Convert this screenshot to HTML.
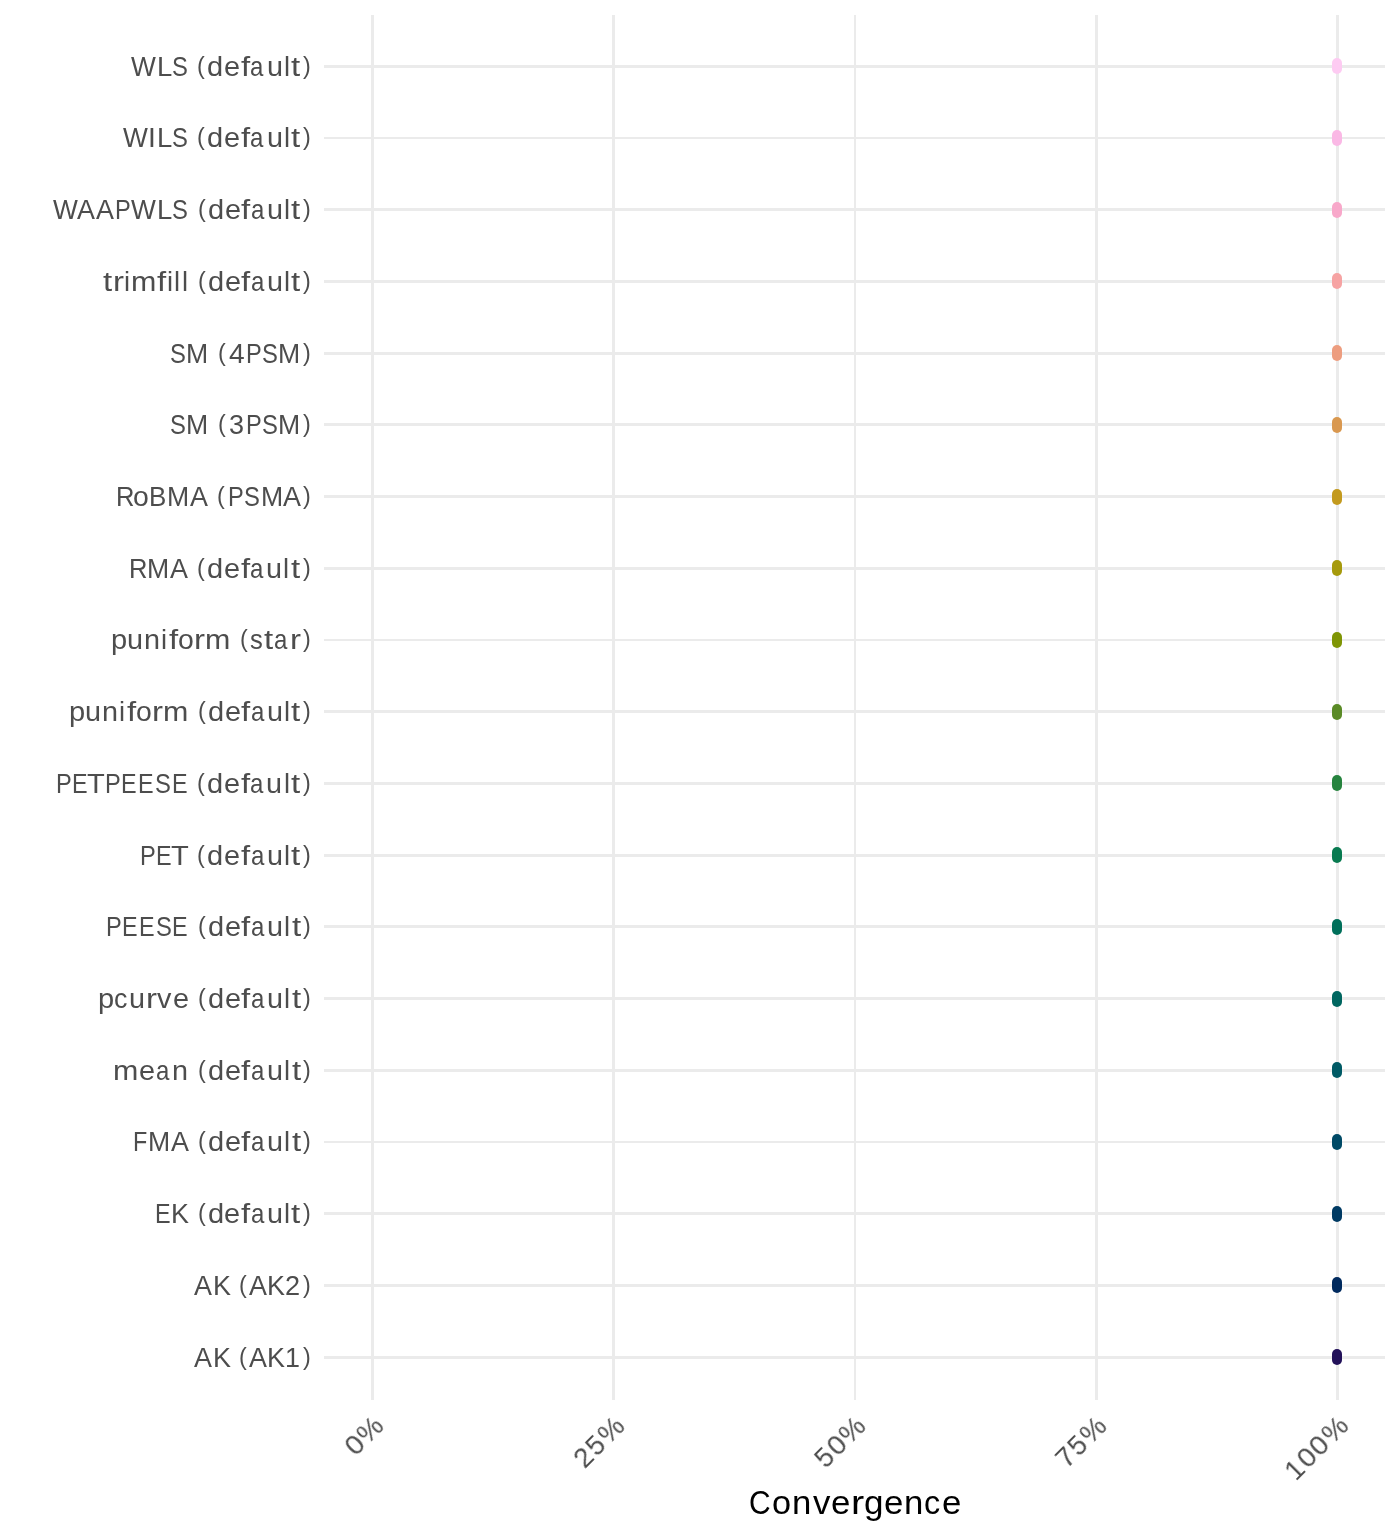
<!DOCTYPE html><html><head><meta charset="utf-8"><title>Convergence</title><style>
html,body{margin:0;padding:0;background:#fff;width:1400px;height:1536px;overflow:hidden;}
body{position:relative;font-family:"Liberation Sans",sans-serif;}
.g{position:absolute;background:#EBEBEB;}
.p{position:absolute;width:10.00px;height:16.00px;border-radius:5.00px;}
.t{position:absolute;height:1px;will-change:transform;}
.t span{position:absolute;top:0;white-space:pre;transform-origin:0 0;line-height:1;}
.yl{color:#4D4D4D;font-size:27.50px;}
.xl{color:#4D4D4D;font-size:27.50px;transform-origin:100% 0;}
.ti{color:#000;font-size:33.00px;}
</style></head><body>
<div class="g" style="left:371.15px;top:14.60px;width:2.90px;height:1385.40px"></div>
<div class="g" style="left:612.35px;top:14.60px;width:2.90px;height:1385.40px"></div>
<div class="g" style="left:853.55px;top:14.60px;width:2.90px;height:1385.40px"></div>
<div class="g" style="left:1094.75px;top:14.60px;width:2.90px;height:1385.40px"></div>
<div class="g" style="left:1335.95px;top:14.60px;width:2.90px;height:1385.40px"></div>
<div class="g" style="left:324.00px;top:64.85px;width:1061.20px;height:2.90px"></div>
<div class="g" style="left:324.00px;top:136.56px;width:1061.20px;height:2.90px"></div>
<div class="g" style="left:324.00px;top:208.27px;width:1061.20px;height:2.90px"></div>
<div class="g" style="left:324.00px;top:279.98px;width:1061.20px;height:2.90px"></div>
<div class="g" style="left:324.00px;top:351.69px;width:1061.20px;height:2.90px"></div>
<div class="g" style="left:324.00px;top:423.40px;width:1061.20px;height:2.90px"></div>
<div class="g" style="left:324.00px;top:495.11px;width:1061.20px;height:2.90px"></div>
<div class="g" style="left:324.00px;top:566.82px;width:1061.20px;height:2.90px"></div>
<div class="g" style="left:324.00px;top:638.53px;width:1061.20px;height:2.90px"></div>
<div class="g" style="left:324.00px;top:710.24px;width:1061.20px;height:2.90px"></div>
<div class="g" style="left:324.00px;top:781.95px;width:1061.20px;height:2.90px"></div>
<div class="g" style="left:324.00px;top:853.66px;width:1061.20px;height:2.90px"></div>
<div class="g" style="left:324.00px;top:925.37px;width:1061.20px;height:2.90px"></div>
<div class="g" style="left:324.00px;top:997.08px;width:1061.20px;height:2.90px"></div>
<div class="g" style="left:324.00px;top:1068.79px;width:1061.20px;height:2.90px"></div>
<div class="g" style="left:324.00px;top:1140.50px;width:1061.20px;height:2.90px"></div>
<div class="g" style="left:324.00px;top:1212.21px;width:1061.20px;height:2.90px"></div>
<div class="g" style="left:324.00px;top:1283.92px;width:1061.20px;height:2.90px"></div>
<div class="g" style="left:324.00px;top:1355.63px;width:1061.20px;height:2.90px"></div>
<div class="p" style="left:1332.40px;top:58.30px;background:#FDCBF2"></div>
<div class="p" style="left:1332.40px;top:130.01px;background:#FAB8E5"></div>
<div class="p" style="left:1332.40px;top:201.72px;background:#F8A8CA"></div>
<div class="p" style="left:1332.40px;top:273.43px;background:#F6A3A3"></div>
<div class="p" style="left:1332.40px;top:345.14px;background:#ED9D7F"></div>
<div class="p" style="left:1332.40px;top:416.85px;background:#D9984F"></div>
<div class="p" style="left:1332.40px;top:488.56px;background:#C39A1E"></div>
<div class="p" style="left:1332.40px;top:560.27px;background:#A69A0C"></div>
<div class="p" style="left:1332.40px;top:631.98px;background:#7F9505"></div>
<div class="p" style="left:1332.40px;top:703.69px;background:#5A8A26"></div>
<div class="p" style="left:1332.40px;top:775.40px;background:#26833E"></div>
<div class="p" style="left:1332.40px;top:847.11px;background:#087A50"></div>
<div class="p" style="left:1332.40px;top:918.82px;background:#006F5A"></div>
<div class="p" style="left:1332.40px;top:990.53px;background:#006660"></div>
<div class="p" style="left:1332.40px;top:1062.24px;background:#005A65"></div>
<div class="p" style="left:1332.40px;top:1133.95px;background:#004A66"></div>
<div class="p" style="left:1332.40px;top:1205.66px;background:#003A63"></div>
<div class="p" style="left:1332.40px;top:1277.37px;background:#002A5E"></div>
<div class="p" style="left:1332.40px;top:1349.08px;background:#221159"></div>
<div class="t yl" style="left:130.05px;top:53.00px"><span style="left:0.77px;transform:scaleX(0.9572)">W</span><span style="left:26.75px;transform:scaleX(0.9989)">L</span><span style="left:41.94px;transform:scaleX(0.8655)">S</span><span style="left:67.43px;transform:scaleX(0.8500) scaleY(0.900);transform-origin:0 3.30px">(</span><span style="left:77.36px;transform:scaleX(1.0552)">d</span><span style="left:94.29px;transform:scaleX(1.0487)">e</span><span style="left:110.89px;transform:scaleX(1.2000)">f</span><span style="left:120.45px;transform:scaleX(0.8731)">a</span><span style="left:136.63px;transform:scaleX(1.0468)">u</span><span style="left:153.81px;transform:scaleX(0.9925)">l</span><span style="left:161.11px;transform:scaleX(1.2000)">t</span><span style="left:172.93px;transform:scaleX(0.8500) scaleY(0.900);transform-origin:0 3.30px">)</span></div>
<div class="t yl" style="left:122.17px;top:124.00px"><span style="left:0.77px;transform:scaleX(0.9572)">W</span><span style="left:26.39px;transform:scaleX(1.0268)">I</span><span style="left:34.62px;transform:scaleX(0.9989)">L</span><span style="left:49.82px;transform:scaleX(0.8655)">S</span><span style="left:75.30px;transform:scaleX(0.8500) scaleY(0.900);transform-origin:0 3.30px">(</span><span style="left:85.23px;transform:scaleX(1.0552)">d</span><span style="left:102.16px;transform:scaleX(1.0487)">e</span><span style="left:118.75px;transform:scaleX(1.2000)">f</span><span style="left:128.33px;transform:scaleX(0.8731)">a</span><span style="left:144.50px;transform:scaleX(1.0468)">u</span><span style="left:161.69px;transform:scaleX(0.9925)">l</span><span style="left:168.99px;transform:scaleX(1.2000)">t</span><span style="left:180.80px;transform:scaleX(0.8500) scaleY(0.900);transform-origin:0 3.30px">)</span></div>
<div class="t yl" style="left:51.75px;top:196.00px"><span style="left:0.77px;transform:scaleX(0.9572)">W</span><span style="left:25.08px;transform:scaleX(0.9781)">A</span><span style="left:44.09px;transform:scaleX(0.9781)">A</span><span style="left:62.87px;transform:scaleX(0.8587)">P</span><span style="left:79.06px;transform:scaleX(0.9572)">W</span><span style="left:105.06px;transform:scaleX(0.9989)">L</span><span style="left:120.24px;transform:scaleX(0.8655)">S</span><span style="left:145.72px;transform:scaleX(0.8500) scaleY(0.900);transform-origin:0 3.30px">(</span><span style="left:155.65px;transform:scaleX(1.0552)">d</span><span style="left:172.60px;transform:scaleX(1.0487)">e</span><span style="left:189.19px;transform:scaleX(1.2000)">f</span><span style="left:198.75px;transform:scaleX(0.8731)">a</span><span style="left:214.92px;transform:scaleX(1.0468)">u</span><span style="left:232.12px;transform:scaleX(0.9925)">l</span><span style="left:239.41px;transform:scaleX(1.2000)">t</span><span style="left:251.22px;transform:scaleX(0.8500) scaleY(0.900);transform-origin:0 3.30px">)</span></div>
<div class="t yl" style="left:101.75px;top:268.00px"><span style="left:0.56px;transform:scaleX(1.2000)">t</span><span style="left:10.85px;transform:scaleX(1.2000)">r</span><span style="left:22.13px;transform:scaleX(0.9925)">i</span><span style="left:29.25px;transform:scaleX(1.1062)">m</span><span style="left:55.26px;transform:scaleX(1.2000)">f</span><span style="left:64.95px;transform:scaleX(0.9925)">i</span><span style="left:72.34px;transform:scaleX(0.9925)">l</span><span style="left:79.75px;transform:scaleX(0.9925)">l</span><span style="left:95.72px;transform:scaleX(0.8500) scaleY(0.900);transform-origin:0 3.30px">(</span><span style="left:105.65px;transform:scaleX(1.0552)">d</span><span style="left:122.60px;transform:scaleX(1.0487)">e</span><span style="left:139.19px;transform:scaleX(1.2000)">f</span><span style="left:148.75px;transform:scaleX(0.8731)">a</span><span style="left:164.92px;transform:scaleX(1.0468)">u</span><span style="left:182.12px;transform:scaleX(0.9925)">l</span><span style="left:189.41px;transform:scaleX(1.2000)">t</span><span style="left:201.22px;transform:scaleX(0.8500) scaleY(0.900);transform-origin:0 3.30px">)</span></div>
<div class="t yl" style="left:169.16px;top:340.00px"><span style="left:0.68px;transform:scaleX(0.8655)">S</span><span style="left:17.38px;transform:scaleX(0.9681)">M</span><span style="left:49.19px;transform:scaleX(0.8500) scaleY(0.900);transform-origin:0 3.30px">(</span><span style="left:59.52px;transform:scaleX(1.0236)">4</span><span style="left:76.53px;transform:scaleX(0.8587)">P</span><span style="left:92.63px;transform:scaleX(0.8655)">S</span><span style="left:109.33px;transform:scaleX(0.9681)">M</span><span style="left:133.81px;transform:scaleX(0.8500) scaleY(0.900);transform-origin:0 3.30px">)</span></div>
<div class="t yl" style="left:169.16px;top:411.00px"><span style="left:0.68px;transform:scaleX(0.8655)">S</span><span style="left:17.38px;transform:scaleX(0.9681)">M</span><span style="left:49.19px;transform:scaleX(0.8500) scaleY(0.900);transform-origin:0 3.30px">(</span><span style="left:59.87px;transform:scaleX(0.9829)">3</span><span style="left:76.53px;transform:scaleX(0.8587)">P</span><span style="left:92.63px;transform:scaleX(0.8655)">S</span><span style="left:109.33px;transform:scaleX(0.9681)">M</span><span style="left:133.81px;transform:scaleX(0.8500) scaleY(0.900);transform-origin:0 3.30px">)</span></div>
<div class="t yl" style="left:114.57px;top:483.00px"><span style="left:0.53px;transform:scaleX(0.9286)">R</span><span style="left:17.63px;transform:scaleX(1.0322)">o</span><span style="left:34.17px;transform:scaleX(0.9433)">B</span><span style="left:52.43px;transform:scaleX(0.9681)">M</span><span style="left:75.17px;transform:scaleX(0.9781)">A</span><span style="left:102.49px;transform:scaleX(0.8500) scaleY(0.900);transform-origin:0 3.30px">(</span><span style="left:112.85px;transform:scaleX(0.8587)">P</span><span style="left:128.96px;transform:scaleX(0.8655)">S</span><span style="left:145.65px;transform:scaleX(0.9681)">M</span><span style="left:168.41px;transform:scaleX(0.9781)">A</span><span style="left:188.41px;transform:scaleX(0.8500) scaleY(0.900);transform-origin:0 3.30px">)</span></div>
<div class="t yl" style="left:128.43px;top:555.00px"><span style="left:0.53px;transform:scaleX(0.9286)">R</span><span style="left:18.97px;transform:scaleX(0.9681)">M</span><span style="left:41.73px;transform:scaleX(0.9781)">A</span><span style="left:69.06px;transform:scaleX(0.8500) scaleY(0.900);transform-origin:0 3.30px">(</span><span style="left:78.99px;transform:scaleX(1.0552)">d</span><span style="left:95.92px;transform:scaleX(1.0487)">e</span><span style="left:112.51px;transform:scaleX(1.2000)">f</span><span style="left:122.09px;transform:scaleX(0.8731)">a</span><span style="left:138.26px;transform:scaleX(1.0468)">u</span><span style="left:155.44px;transform:scaleX(0.9925)">l</span><span style="left:162.75px;transform:scaleX(1.2000)">t</span><span style="left:174.54px;transform:scaleX(0.8500) scaleY(0.900);transform-origin:0 3.30px">)</span></div>
<div class="t yl" style="left:110.05px;top:626.00px"><span style="left:0.55px;transform:scaleX(1.0563)">p</span><span style="left:17.34px;transform:scaleX(1.0468)">u</span><span style="left:34.37px;transform:scaleX(1.0468)">n</span><span style="left:51.46px;transform:scaleX(0.9925)">i</span><span style="left:58.61px;transform:scaleX(1.2000)">f</span><span style="left:67.86px;transform:scaleX(1.0322)">o</span><span style="left:84.31px;transform:scaleX(1.2000)">r</span><span style="left:94.82px;transform:scaleX(1.1062)">m</span><span style="left:129.64px;transform:scaleX(0.8500) scaleY(0.900);transform-origin:0 3.30px">(</span><span style="left:140.05px;transform:scaleX(0.9307)">s</span><span style="left:153.79px;transform:scaleX(1.2000)">t</span><span style="left:164.29px;transform:scaleX(0.8731)">a</span><span style="left:180.45px;transform:scaleX(1.2000)">r</span><span style="left:192.92px;transform:scaleX(0.8500) scaleY(0.900);transform-origin:0 3.30px">)</span></div>
<div class="t yl" style="left:67.83px;top:698.00px"><span style="left:0.55px;transform:scaleX(1.0563)">p</span><span style="left:17.34px;transform:scaleX(1.0468)">u</span><span style="left:34.37px;transform:scaleX(1.0468)">n</span><span style="left:51.46px;transform:scaleX(0.9925)">i</span><span style="left:58.61px;transform:scaleX(1.2000)">f</span><span style="left:67.86px;transform:scaleX(1.0322)">o</span><span style="left:84.31px;transform:scaleX(1.2000)">r</span><span style="left:94.82px;transform:scaleX(1.1062)">m</span><span style="left:129.64px;transform:scaleX(0.8500) scaleY(0.900);transform-origin:0 3.30px">(</span><span style="left:139.57px;transform:scaleX(1.0552)">d</span><span style="left:156.52px;transform:scaleX(1.0487)">e</span><span style="left:173.11px;transform:scaleX(1.2000)">f</span><span style="left:182.67px;transform:scaleX(0.8731)">a</span><span style="left:198.85px;transform:scaleX(1.0468)">u</span><span style="left:216.05px;transform:scaleX(0.9925)">l</span><span style="left:223.35px;transform:scaleX(1.2000)">t</span><span style="left:235.14px;transform:scaleX(0.8500) scaleY(0.900);transform-origin:0 3.30px">)</span></div>
<div class="t yl" style="left:55.36px;top:770.00px"><span style="left:0.68px;transform:scaleX(0.8587)">P</span><span style="left:16.73px;transform:scaleX(0.8500)">E</span><span style="left:32.22px;transform:scaleX(1.0589)">T</span><span style="left:49.95px;transform:scaleX(0.8587)">P</span><span style="left:65.99px;transform:scaleX(0.8500)">E</span><span style="left:82.87px;transform:scaleX(0.8500)">E</span><span style="left:99.77px;transform:scaleX(0.8655)">S</span><span style="left:116.67px;transform:scaleX(0.8500)">E</span><span style="left:142.13px;transform:scaleX(0.8500) scaleY(0.900);transform-origin:0 3.30px">(</span><span style="left:152.06px;transform:scaleX(1.0552)">d</span><span style="left:168.99px;transform:scaleX(1.0487)">e</span><span style="left:185.58px;transform:scaleX(1.2000)">f</span><span style="left:195.14px;transform:scaleX(0.8731)">a</span><span style="left:211.31px;transform:scaleX(1.0468)">u</span><span style="left:228.51px;transform:scaleX(0.9925)">l</span><span style="left:235.82px;transform:scaleX(1.2000)">t</span><span style="left:247.61px;transform:scaleX(0.8500) scaleY(0.900);transform-origin:0 3.30px">)</span></div>
<div class="t yl" style="left:139.00px;top:842.00px"><span style="left:0.68px;transform:scaleX(0.8587)">P</span><span style="left:16.73px;transform:scaleX(0.8500)">E</span><span style="left:32.22px;transform:scaleX(1.0589)">T</span><span style="left:58.49px;transform:scaleX(0.8500) scaleY(0.900);transform-origin:0 3.30px">(</span><span style="left:68.42px;transform:scaleX(1.0552)">d</span><span style="left:85.35px;transform:scaleX(1.0487)">e</span><span style="left:101.94px;transform:scaleX(1.2000)">f</span><span style="left:111.51px;transform:scaleX(0.8731)">a</span><span style="left:127.69px;transform:scaleX(1.0468)">u</span><span style="left:144.87px;transform:scaleX(0.9925)">l</span><span style="left:152.18px;transform:scaleX(1.2000)">t</span><span style="left:163.97px;transform:scaleX(0.8500) scaleY(0.900);transform-origin:0 3.30px">)</span></div>
<div class="t yl" style="left:104.62px;top:913.00px"><span style="left:0.68px;transform:scaleX(0.8587)">P</span><span style="left:16.73px;transform:scaleX(0.8500)">E</span><span style="left:33.59px;transform:scaleX(0.8500)">E</span><span style="left:50.51px;transform:scaleX(0.8655)">S</span><span style="left:67.40px;transform:scaleX(0.8500)">E</span><span style="left:92.85px;transform:scaleX(0.8500) scaleY(0.900);transform-origin:0 3.30px">(</span><span style="left:102.78px;transform:scaleX(1.0552)">d</span><span style="left:119.73px;transform:scaleX(1.0487)">e</span><span style="left:136.32px;transform:scaleX(1.2000)">f</span><span style="left:145.88px;transform:scaleX(0.8731)">a</span><span style="left:162.05px;transform:scaleX(1.0468)">u</span><span style="left:179.25px;transform:scaleX(0.9925)">l</span><span style="left:186.55px;transform:scaleX(1.2000)">t</span><span style="left:198.35px;transform:scaleX(0.8500) scaleY(0.900);transform-origin:0 3.30px">)</span></div>
<div class="t yl" style="left:96.53px;top:985.00px"><span style="left:0.55px;transform:scaleX(1.0563)">p</span><span style="left:17.27px;transform:scaleX(0.9742)">c</span><span style="left:32.02px;transform:scaleX(1.0468)">u</span><span style="left:48.91px;transform:scaleX(1.2000)">r</span><span style="left:60.20px;transform:scaleX(1.0478)">v</span><span style="left:75.55px;transform:scaleX(1.0487)">e</span><span style="left:100.94px;transform:scaleX(0.8500) scaleY(0.900);transform-origin:0 3.30px">(</span><span style="left:110.87px;transform:scaleX(1.0552)">d</span><span style="left:127.82px;transform:scaleX(1.0487)">e</span><span style="left:144.41px;transform:scaleX(1.2000)">f</span><span style="left:153.97px;transform:scaleX(0.8731)">a</span><span style="left:170.14px;transform:scaleX(1.0468)">u</span><span style="left:187.34px;transform:scaleX(0.9925)">l</span><span style="left:194.65px;transform:scaleX(1.2000)">t</span><span style="left:206.44px;transform:scaleX(0.8500) scaleY(0.900);transform-origin:0 3.30px">)</span></div>
<div class="t yl" style="left:112.56px;top:1057.00px"><span style="left:0.40px;transform:scaleX(1.1062)">m</span><span style="left:26.24px;transform:scaleX(1.0487)">e</span><span style="left:43.01px;transform:scaleX(0.8731)">a</span><span style="left:59.30px;transform:scaleX(1.0468)">n</span><span style="left:84.91px;transform:scaleX(0.8500) scaleY(0.900);transform-origin:0 3.30px">(</span><span style="left:94.84px;transform:scaleX(1.0552)">d</span><span style="left:111.79px;transform:scaleX(1.0487)">e</span><span style="left:128.38px;transform:scaleX(1.2000)">f</span><span style="left:137.94px;transform:scaleX(0.8731)">a</span><span style="left:154.12px;transform:scaleX(1.0468)">u</span><span style="left:171.32px;transform:scaleX(0.9925)">l</span><span style="left:178.62px;transform:scaleX(1.2000)">t</span><span style="left:190.41px;transform:scaleX(0.8500) scaleY(0.900);transform-origin:0 3.30px">)</span></div>
<div class="t yl" style="left:131.62px;top:1128.00px"><span style="left:0.58px;transform:scaleX(0.8500)">F</span><span style="left:15.78px;transform:scaleX(0.9681)">M</span><span style="left:38.53px;transform:scaleX(0.9781)">A</span><span style="left:65.86px;transform:scaleX(0.8500) scaleY(0.900);transform-origin:0 3.30px">(</span><span style="left:75.79px;transform:scaleX(1.0552)">d</span><span style="left:92.74px;transform:scaleX(1.0487)">e</span><span style="left:109.33px;transform:scaleX(1.2000)">f</span><span style="left:118.89px;transform:scaleX(0.8731)">a</span><span style="left:135.06px;transform:scaleX(1.0468)">u</span><span style="left:152.26px;transform:scaleX(0.9925)">l</span><span style="left:159.56px;transform:scaleX(1.2000)">t</span><span style="left:171.36px;transform:scaleX(0.8500) scaleY(0.900);transform-origin:0 3.30px">)</span></div>
<div class="t yl" style="left:153.89px;top:1200.00px"><span style="left:0.64px;transform:scaleX(0.8500)">E</span><span style="left:17.27px;transform:scaleX(0.9792)">K</span><span style="left:43.59px;transform:scaleX(0.8500) scaleY(0.900);transform-origin:0 3.30px">(</span><span style="left:53.52px;transform:scaleX(1.0552)">d</span><span style="left:70.45px;transform:scaleX(1.0487)">e</span><span style="left:87.06px;transform:scaleX(1.2000)">f</span><span style="left:96.62px;transform:scaleX(0.8731)">a</span><span style="left:112.79px;transform:scaleX(1.0468)">u</span><span style="left:129.97px;transform:scaleX(0.9925)">l</span><span style="left:137.28px;transform:scaleX(1.2000)">t</span><span style="left:149.09px;transform:scaleX(0.8500) scaleY(0.900);transform-origin:0 3.30px">)</span></div>
<div class="t yl" style="left:193.68px;top:1272.00px"><span style="left:0.16px;transform:scaleX(0.9781)">A</span><span style="left:18.67px;transform:scaleX(0.9792)">K</span><span style="left:44.98px;transform:scaleX(0.8500) scaleY(0.900);transform-origin:0 3.30px">(</span><span style="left:54.81px;transform:scaleX(0.9781)">A</span><span style="left:73.33px;transform:scaleX(0.9792)">K</span><span style="left:91.01px;transform:scaleX(0.9865)">2</span><span style="left:109.30px;transform:scaleX(0.8500) scaleY(0.900);transform-origin:0 3.30px">)</span></div>
<div class="t yl" style="left:193.68px;top:1344.00px"><span style="left:0.16px;transform:scaleX(0.9781)">A</span><span style="left:18.67px;transform:scaleX(0.9792)">K</span><span style="left:44.98px;transform:scaleX(0.8500) scaleY(0.900);transform-origin:0 3.30px">(</span><span style="left:54.81px;transform:scaleX(0.9781)">A</span><span style="left:73.33px;transform:scaleX(0.9792)">K</span><span style="left:91.30px;transform:scaleX(0.9775)">1</span><span style="left:109.30px;transform:scaleX(0.8500) scaleY(0.900);transform-origin:0 3.30px">)</span></div>
<div class="t xl" style="left:325.79px;top:1410.50px;width:43.31px;transform:rotate(-45deg)"><span style="left:0.68px;transform:scaleX(1.0465)">0</span><span style="left:17.86px;transform:scaleX(1.0194)">%</span></div>
<div class="t xl" style="left:549.64px;top:1410.50px;width:60.66px;transform:rotate(-45deg)"><span style="left:0.60px;transform:scaleX(1.0087)">2</span><span style="left:18.37px;transform:scaleX(0.9876)">5</span><span style="left:35.23px;transform:scaleX(1.0194)">%</span></div>
<div class="t xl" style="left:790.84px;top:1410.50px;width:60.66px;transform:rotate(-45deg)"><span style="left:1.02px;transform:scaleX(0.9876)">5</span><span style="left:18.03px;transform:scaleX(1.0465)">0</span><span style="left:35.23px;transform:scaleX(1.0194)">%</span></div>
<div class="t xl" style="left:1032.04px;top:1410.50px;width:60.66px;transform:rotate(-45deg)"><span style="left:0.80px;transform:scaleX(1.0237)">7</span><span style="left:18.37px;transform:scaleX(0.9876)">5</span><span style="left:35.23px;transform:scaleX(1.0194)">%</span></div>
<div class="t xl" style="left:1255.87px;top:1410.50px;width:78.03px;transform:rotate(-45deg)"><span style="left:0.91px;transform:scaleX(0.9995)">1</span><span style="left:18.03px;transform:scaleX(1.0465)">0</span><span style="left:35.39px;transform:scaleX(1.0465)">0</span><span style="left:52.59px;transform:scaleX(1.0194)">%</span></div>
<div class="t ti" style="left:748.68px;top:1486.00px"><span style="left:0.29px;transform:scaleX(0.9072)">C</span><span style="left:22.86px;transform:scaleX(1.0389)">o</span><span style="left:42.85px;transform:scaleX(1.0537)">n</span><span style="left:63.53px;transform:scaleX(1.0547)">v</span><span style="left:82.07px;transform:scaleX(1.0556)">e</span><span style="left:102.12px;transform:scaleX(1.2000)">r</span><span style="left:114.60px;transform:scaleX(1.0622)">g</span><span style="left:135.07px;transform:scaleX(1.0556)">e</span><span style="left:155.23px;transform:scaleX(1.0537)">n</span><span style="left:175.45px;transform:scaleX(0.9806)">c</span><span style="left:193.08px;transform:scaleX(1.0556)">e</span></div>
</body></html>
